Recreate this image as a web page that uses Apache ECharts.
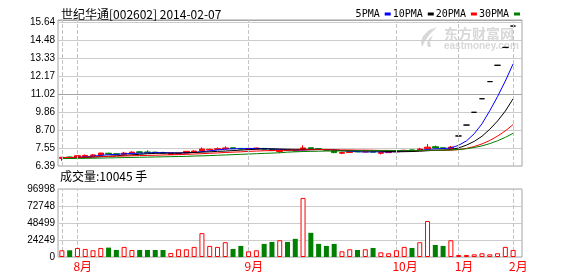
<!DOCTYPE html>
<html><head><meta charset="utf-8">
<script src="https://cdn.jsdelivr.net/npm/echarts@6/dist/echarts.min.js"></script>
<style>html,body{margin:0;padding:0;background:#fff;}#c{width:578px;height:276px;}</style>
</head><body><div id="c"></div>
<script>
const stockName = '世纪华通', stockCode = '002602', quoteDate = '2014-02-07';

const dates = [
 '2013-07-30','2013-07-31',
 '2013-08-01','2013-08-02','2013-08-05','2013-08-06','2013-08-07','2013-08-08','2013-08-09','2013-08-12','2013-08-13','2013-08-14',
 '2013-08-15','2013-08-16','2013-08-19','2013-08-20','2013-08-21','2013-08-22','2013-08-23','2013-08-26','2013-08-27','2013-08-28',
 '2013-08-29','2013-08-30',
 '2013-09-02','2013-09-03','2013-09-04','2013-09-05','2013-09-06','2013-09-09','2013-09-10','2013-09-11','2013-09-12','2013-09-13',
 '2013-09-16','2013-09-17','2013-09-18','2013-09-23','2013-09-24','2013-09-25','2013-09-26','2013-09-27','2013-09-30',
 '2013-10-08','2013-10-09','2013-10-10','2013-10-11','2013-10-14','2013-10-15','2013-10-16','2013-10-17',
 '2014-01-22','2014-01-23','2014-01-24','2014-01-27','2014-01-28','2014-01-29','2014-01-30',
 '2014-02-07'
];

const openP = [6.88,6.97,6.97,7.01,7.05,7.10,7.21,7.17,7.15,7.23,
 7.30,7.29,7.28,7.26,7.13,7.16,7.22,7.30,7.36,7.42,
 7.46,7.50,7.56,7.52,7.46,7.48,7.52,7.46,7.32,7.42,
 7.40,7.44,7.56,7.50,7.45,7.36,7.21,7.26,7.34,7.29,
 7.35,7.21,7.25,7.30,7.35,7.42,7.42,7.50,7.63,7.56,
 7.50,8.32,9.02,9.84,10.71,11.81,12.86,14.01,15.38];
const closeP = [6.95,6.92,7.05,7.07,7.10,7.22,7.16,7.14,7.22,7.28,
 7.26,7.26,7.25,7.22,7.20,7.20,7.33,7.35,7.48,7.46,
 7.50,7.55,7.50,7.48,7.52,7.54,7.47,7.38,7.40,7.38,
 7.35,7.55,7.50,7.46,7.40,7.25,7.25,7.33,7.30,7.34,
 7.28,7.25,7.30,7.36,7.40,7.40,7.48,7.60,7.55,7.52,
 7.60,8.32,9.02,9.84,10.71,11.81,12.86,14.01,15.38];
const lowP = [6.72,6.90,6.95,6.98,7.02,7.08,7.14,7.12,7.13,7.20,
 7.22,7.24,7.22,7.16,7.10,7.14,7.20,7.28,7.34,7.38,
 7.43,7.46,7.48,7.45,7.43,7.46,7.45,7.35,7.22,7.36,
 7.32,7.42,7.48,7.44,7.38,7.22,7.15,7.24,7.28,7.27,
 7.26,7.13,7.23,7.28,7.33,7.38,7.40,7.48,7.52,7.49,
 7.45,8.32,9.02,9.84,10.71,11.81,12.86,14.01,15.38];
const highP = [6.97,7.00,7.07,7.13,7.16,7.24,7.24,7.20,7.30,7.33,
 7.35,7.40,7.30,7.30,7.22,7.25,7.35,7.40,7.58,7.50,
 7.58,7.66,7.58,7.55,7.55,7.57,7.55,7.48,7.42,7.45,
 7.44,7.72,7.58,7.53,7.47,7.38,7.30,7.35,7.36,7.36,
 7.37,7.30,7.33,7.38,7.43,7.44,7.56,7.80,7.70,7.58,
 7.68,8.32,9.02,9.84,10.71,11.81,12.86,14.01,15.38];

const volume = [9580,9580,12900,11500,9580,12900,13400,10000,14400,10000,
 10000,10000,10000,10000,5750,11000,11000,14400,34000,15800,
 14400,21100,11500,15800,8100,9580,18700,21500,23900,21500,
 25900,84300,34500,18700,15800,18700,8100,11000,10000,11000,
 12900,6700,5300,9600,14400,12900,21100,51300,17200,15800,
 23900,2900,2900,3800,5300,3800,5300,14400,10045];

const ma5 = [6.92,6.92,6.95,6.98,7.02,7.07,7.12,7.14,7.17,7.20,
 7.21,7.23,7.25,7.25,7.24,7.23,7.24,7.26,7.31,7.36,
 7.42,7.47,7.50,7.50,7.51,7.52,7.50,7.48,7.46,7.43,
 7.40,7.41,7.44,7.45,7.45,7.43,7.37,7.34,7.31,7.29,
 7.30,7.30,7.29,7.31,7.32,7.34,7.39,7.45,7.49,7.51,
 7.55,7.72,8.00,8.46,9.10,9.94,10.85,11.85,12.95];
const ma10 = [6.88,6.90,6.92,6.94,6.96,6.99,7.02,7.05,7.08,7.11,
 7.14,7.18,7.20,7.21,7.22,7.22,7.24,7.26,7.28,7.30,
 7.33,7.35,7.38,7.41,7.44,7.47,7.49,7.49,7.48,7.47,
 7.46,7.46,7.46,7.46,7.44,7.41,7.39,7.39,7.38,7.37,
 7.37,7.34,7.32,7.31,7.31,7.32,7.34,7.37,7.40,7.41,
 7.45,7.55,7.73,7.97,8.30,8.75,9.28,9.92,10.71];
const ma20 = [6.93,6.94,6.95,6.96,6.97,6.99,7.00,7.02,7.03,7.05,
 7.06,7.07,7.08,7.10,7.11,7.12,7.14,7.16,7.18,7.21,
 7.23,7.26,7.28,7.30,7.33,7.35,7.37,7.38,7.39,7.40,
 7.41,7.42,7.43,7.44,7.44,7.43,7.42,7.42,7.41,7.41,
 7.40,7.39,7.39,7.38,7.38,7.38,7.38,7.39,7.39,7.40,
 7.41,7.44,7.52,7.64,7.81,8.03,8.31,8.65,9.05];
const ma30 = [6.87,6.87,6.88,6.88,6.89,6.90,6.91,6.92,6.93,6.94,
 6.95,6.96,6.97,6.98,6.99,7.00,7.01,7.03,7.04,7.06,
 7.08,7.10,7.12,7.14,7.16,7.18,7.20,7.22,7.24,7.28,
 7.30,7.32,7.33,7.34,7.35,7.35,7.36,7.36,7.37,7.37,
 7.37,7.38,7.38,7.38,7.38,7.39,7.39,7.40,7.40,7.41,
 7.42,7.45,7.50,7.58,7.68,7.83,8.01,8.23,8.49];

const priceTickLabels = ['6.39','7.55','8.70','9.86','11.02','12.17','13.33','14.48','15.64'];
const volTickLabels = ['0','24249','48499','72748','96998'];
const monthTickDates = ['2013-07-30','2013-08-01','2013-09-02','2013-10-08','2014-01-22','2014-02-07'];
const monthTickLabels = ['','8月','9月','10月','1月','2月'];
const maNames = ['5PMA','10PMA','20PMA','30PMA'];

// ---- layout / style ----
const W = 578, H = 276;
const LEFT = 58, RIGHT_FRAME = 56, RIGHT_DATA = 61;
const P_TOP = 20, P_BOTTOM = 110, V_TOP = 189, V_BOTTOM = 19;
const UP = '#ff0000', DOWN = '#008000', FRAME = '#a4a4a4', GRIDC = '#cccccc';
const maColors = ['#0000ff', '#000000', '#ff0000', '#008000'];

const pMin = parseFloat(priceTickLabels[0]);
const pTop = parseFloat(priceTickLabels[priceTickLabels.length - 1]);
const pStep = (pTop - pMin) / (priceTickLabels.length - 1);
const pHeight = H - P_TOP - P_BOTTOM;
const pPad = 2;
const pAxisMax = pTop + pPad * (pTop - pMin) / (pHeight - pPad);
const vMax = parseFloat(volTickLabels[volTickLabels.length - 1]);
const vStep = vMax / (volTickLabels.length - 1);

const blackStyle = { color: '#000', color0: '#000', borderColor: '#000', borderColor0: '#000', borderColorDoji: '#000' };
const candleData = dates.map((d, i) => {
  const v = [openP[i], closeP[i], lowP[i], highP[i]];
  const oneLine = openP[i] === closeP[i] && lowP[i] === highP[i] && openP[i] === lowP[i];
  return oneLine ? { value: v, itemStyle: blackStyle } : v;
});
const isUp = i => closeP[i] > openP[i] || (closeP[i] === openP[i] && (i === 0 || closeP[i] >= closeP[i - 1]));
const upVol = volume.map((v, i) => isUp(i) ? v : '-');
const downVol = volume.map((v, i) => isUp(i) ? '-' : v);

const splitColors = priceTickLabels.map((t, i) => i === 4 ? FRAME : GRIDC).concat([FRAME]);
const markLine = {
  symbol: ['none', 'none'], silent: true, animation: false,
  label: { show: false },
  lineStyle: { color: '#c4c4c4', type: [4, 2], width: 1 },
  emphasis: { disabled: true },
  data: monthTickDates.map(d => ({ xAxis: d }))
};

const chart = echarts.init(document.getElementById('c'), null, { renderer: 'canvas' });
chart.setOption({
  animation: false,
  backgroundColor: '#ffffff',
  tooltip: { show: false },
  title: [
    { text: stockName + '[' + stockCode + '] ' + quoteDate, left: 61, top: 8, padding: 0,
      textStyle: { fontSize: 12, fontWeight: 'normal', color: '#000', fontFamily: '"Noto Sans CJK SC"' } },
    { text: '成交量:' + volume[volume.length - 1] + ' 手', left: 60, top: 170, padding: 0,
      textStyle: { fontSize: 12, fontWeight: 'normal', color: '#000', fontFamily: '"Noto Sans CJK SC"' } }
  ],
  legend: {
    data: maNames, right: 58, top: 9, padding: 0, align: 'right', icon: 'rect',
    itemWidth: 6, itemHeight: 3, itemGap: 2, selectedMode: false,
    textStyle: { fontFamily: '"DejaVu Sans Mono"', fontSize: 10, color: '#000' }
  },
  graphic: [
    { type: 'polygon', z: -10, silent: true, shape: { points: [[437,27],[429,30],[423,36],[421,42],[422,47],[425,41],[430,34]] },
      style: { fill: '#d8d8d8' } },
    { type: 'polygon', z: -10, silent: true, shape: { points: [[433,35],[429,39],[427,43],[428,47],[431,47],[430,42]] },
      style: { fill: '#d8d8d8' } },
    { type: 'text', z: -10, silent: true, left: 444, top: 27, style: { text: '东方财富网', fill: '#d8d8d8', font: 'bold 14px "Noto Sans CJK SC"' } },
    { type: 'text', z: -10, silent: true, left: 444, top: 41, style: { text: 'eastmoney.com', fill: '#d8d8d8', font: 'bold 10px "Liberation Sans"' } }
  ],
  grid: [
    { left: LEFT, right: RIGHT_DATA, top: P_TOP, bottom: P_BOTTOM },
    { left: LEFT, right: RIGHT_DATA, top: V_TOP, bottom: V_BOTTOM },
    { left: LEFT, right: RIGHT_FRAME, top: P_TOP, bottom: P_BOTTOM, show: true, borderColor: FRAME, borderWidth: 1, backgroundColor: 'transparent' },
    { left: LEFT, right: RIGHT_FRAME, top: V_TOP, bottom: V_BOTTOM, show: true, borderColor: FRAME, borderWidth: 1, backgroundColor: 'transparent' }
  ],
  xAxis: [
    { gridIndex: 0, type: 'category', data: dates, boundaryGap: true,
      axisLine: { show: false }, axisTick: { show: false }, axisLabel: { show: false }, splitLine: { show: false } },
    { gridIndex: 1, type: 'category', data: dates, boundaryGap: true,
      axisLine: { show: false }, axisTick: { show: false }, splitLine: { show: false },
      axisLabel: {
        show: true, margin: 3, color: '#ff0000', fontSize: 12, fontFamily: '"Noto Sans CJK SC"',
        align: 'left', padding: [0, 0, 0, -4],
        interval: (idx, val) => monthTickDates.indexOf(val) >= 0,
        formatter: val => { const k = monthTickDates.indexOf(val); return k >= 0 ? monthTickLabels[k] : ''; }
      } },
    { gridIndex: 2, type: 'value', show: false, min: 0, max: 1 },
    { gridIndex: 3, type: 'value', show: false, min: 0, max: 1 }
  ],
  yAxis: [
    { gridIndex: 0, type: 'value', show: false, min: pMin, max: pAxisMax, splitLine: { show: false } },
    { gridIndex: 1, type: 'value', show: false, min: 0, max: vMax, splitLine: { show: false } },
    { gridIndex: 2, type: 'value', min: pMin, max: pAxisMax, interval: pStep,
      axisLine: { show: false }, axisTick: { show: false },
      axisLabel: { margin: 3, fontSize: 10, color: '#000', fontFamily: '"Liberation Sans"',
        formatter: (v, i) => (i < priceTickLabels.length ? priceTickLabels[i] : '') },
      splitLine: { show: true, lineStyle: { color: splitColors, width: 1 } } },
    { gridIndex: 3, type: 'value', min: 0, max: vMax, interval: vStep,
      axisLine: { show: false }, axisTick: { show: false },
      axisLabel: { margin: 3, fontSize: 10, color: '#000', fontFamily: '"Liberation Sans"',
        formatter: (v, i) => (i < volTickLabels.length ? volTickLabels[i] : '') },
      splitLine: { show: true, lineStyle: { color: GRIDC, width: 1 } } }
  ],
  series: [
    { type: 'candlestick', name: 'K', xAxisIndex: 0, yAxisIndex: 0, data: candleData, barWidth: 6, clip: false,
      silent: true, emphasis: { disabled: true },
      itemStyle: { color: UP, color0: DOWN, borderColor: UP, borderColor0: DOWN, borderWidth: 1 },
      markLine: markLine, z: 3 },
    ...[ma5, ma10, ma20, ma30].map((arr, k) => ({
      type: 'line', name: maNames[k], xAxisIndex: 0, yAxisIndex: 0, data: arr,
      symbol: 'none', showSymbol: false, smooth: false, z: 4, silent: true, emphasis: { disabled: true },
      color: maColors[k], itemStyle: { color: maColors[k] }, lineStyle: { color: maColors[k], width: 1 }
    })),
    { type: 'bar', name: 'VOLUP', xAxisIndex: 1, yAxisIndex: 1, data: upVol, barWidth: 5, barGap: '-100%', z: 10,
      silent: true, emphasis: { disabled: true }, clip: false,
      itemStyle: { color: '#ffffff', borderColor: UP, borderWidth: 1 },
      markLine: Object.assign({}, markLine, { z: 1 }) },
    { type: 'bar', name: 'VOLDOWN', xAxisIndex: 1, yAxisIndex: 1, data: downVol, barWidth: 5, barGap: '-100%', z: 10,
      silent: true, emphasis: { disabled: true }, clip: false,
      itemStyle: { color: DOWN, borderWidth: 0 } }
  ]
});
</script></body></html>
